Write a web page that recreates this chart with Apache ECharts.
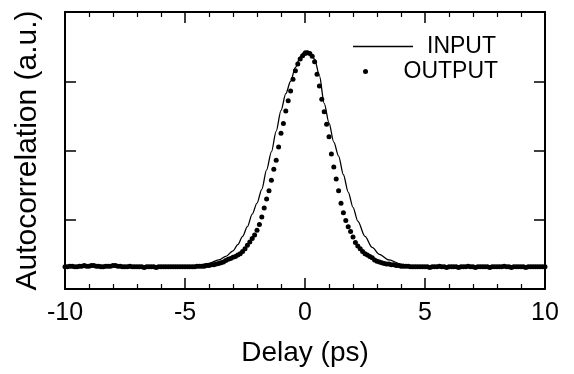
<!DOCTYPE HTML>
<html>
<head>
<meta charset="utf-8">
<title>Autocorrelation</title>
<script src="https://cdn.jsdelivr.net/npm/echarts@6/dist/echarts.min.js"></script>
<style>
html,body{margin:0;padding:0;background:#fff;}
#main{width:574px;height:374px;}
</style>
</head>
<body>
<div id="main"></div>
<script type="text/javascript">
// 数据
var xTicks = [-10, -5, 0, 5, 10];
var seriesNames = ['INPUT', 'OUTPUT'];

// INPUT 实线
var inputDelay = [-10,-9.5,-9,-8.5,-8,-7.5,-7,-6.5,-6,-5.5,-5,-4.5,-4,-3.6,-3.3,-3,-2.8,-2.6,-2.4,-2.2,-2,-1.8,-1.6,-1.4,-1.2,-1,-0.8,-0.6,-0.4,-0.2,0,0.2,0.4,0.6,0.8,1,1.2,1.4,1.6,1.8,2,2.2,2.5,2.8,3.1,3.5,4,4.5,5,5.5,6,6.5,7,7.5,8,8.5,9,9.5,10];
var inputValue = [0.32,0.33,0.33,0.34,0.33,0.33,0.32,0.32,0.32,0.32,0.33,0.34,0.37,0.42,0.47,0.55,0.64,0.76,0.90,1.08,1.24,1.44,1.72,1.98,2.28,2.58,2.82,3.00,3.20,3.35,3.44,3.42,3.32,3.08,2.68,2.40,2.12,1.92,1.65,1.40,1.18,0.98,0.76,0.60,0.50,0.42,0.36,0.33,0.32,0.32,0.32,0.31,0.32,0.32,0.32,0.31,0.32,0.32,0.32];

// OUTPUT 点 (-10 ~ 10, 每 0.1 ps)
var outputDelay = [
-10,-9.9,-9.8,-9.7,-9.6,-9.5,-9.4,-9.3,-9.2,-9.1,
-9,-8.9,-8.8,-8.7,-8.6,-8.5,-8.4,-8.3,-8.2,-8.1,
-8,-7.9,-7.8,-7.7,-7.6,-7.5,-7.4,-7.3,-7.2,-7.1,
-7,-6.9,-6.8,-6.7,-6.6,-6.5,-6.4,-6.3,-6.2,-6.1,
-6,-5.9,-5.8,-5.7,-5.6,-5.5,-5.4,-5.3,-5.2,-5.1,
-5,-4.9,-4.8,-4.7,-4.6,-4.5,-4.4,-4.3,-4.2,-4.1,
-4,-3.9,-3.8,-3.7,-3.6,-3.5,-3.4,-3.3,-3.2,-3.1,
-3,-2.9,-2.8,-2.7,-2.6,-2.5,-2.4,-2.3,-2.2,-2.1,
-2,-1.9,-1.8,-1.7,-1.6,-1.5,-1.4,-1.3,-1.2,-1.1,
-1,-0.9,-0.8,-0.7,-0.6,-0.5,-0.4,-0.3,-0.2,-0.1,
0,0.1,0.2,0.3,0.4,0.5,0.6,0.7,0.8,0.9,
1,1.1,1.2,1.3,1.4,1.5,1.6,1.7,1.8,1.9,
2,2.1,2.2,2.3,2.4,2.5,2.6,2.7,2.8,2.9,
3,3.1,3.2,3.3,3.4,3.5,3.6,3.7,3.8,3.9,
4,4.1,4.2,4.3,4.4,4.5,4.6,4.7,4.8,4.9,
5,5.1,5.2,5.3,5.4,5.5,5.6,5.7,5.8,5.9,
6,6.1,6.2,6.3,6.4,6.5,6.6,6.7,6.8,6.9,
7,7.1,7.2,7.3,7.4,7.5,7.6,7.7,7.8,7.9,
8,8.1,8.2,8.3,8.4,8.5,8.6,8.7,8.8,8.9,
9,9.1,9.2,9.3,9.4,9.5,9.6,9.7,9.8,9.9,
10];
var outputValue = [
0.32,0.32,0.33,0.33,0.32,0.32,0.33,0.33,0.34,0.33,
0.33,0.34,0.34,0.33,0.33,0.32,0.32,0.33,0.33,0.33,
0.34,0.34,0.33,0.33,0.32,0.32,0.32,0.33,0.32,0.32,
0.32,0.32,0.32,0.31,0.32,0.32,0.32,0.32,0.31,0.32,
0.32,0.32,0.32,0.32,0.32,0.32,0.32,0.32,0.32,0.32,
0.32,0.32,0.32,0.32,0.32,0.33,0.33,0.33,0.33,0.34,
0.34,0.35,0.35,0.36,0.37,0.38,0.39,0.41,0.43,0.44,
0.46,0.47,0.49,0.51,0.54,0.58,0.63,0.68,0.73,0.78,
0.85,0.93,1.04,1.17,1.30,1.42,1.57,1.73,1.86,2.05,
2.25,2.39,2.57,2.72,2.86,3.03,3.15,3.25,3.32,3.37,
3.40,3.41,3.40,3.36,3.28,3.10,2.93,2.74,2.56,2.38,
2.20,1.95,1.76,1.59,1.42,1.24,1.10,0.99,0.90,0.83,
0.75,0.67,0.62,0.58,0.54,0.51,0.49,0.47,0.45,0.42,
0.40,0.39,0.38,0.37,0.36,0.36,0.35,0.35,0.34,0.34,
0.33,0.33,0.33,0.33,0.32,0.32,0.32,0.32,0.32,0.32,
0.32,0.32,0.31,0.32,0.32,0.32,0.33,0.32,0.32,0.31,
0.32,0.32,0.32,0.32,0.31,0.32,0.32,0.32,0.33,0.32,
0.32,0.31,0.32,0.32,0.32,0.32,0.32,0.31,0.32,0.32,
0.32,0.32,0.32,0.33,0.32,0.32,0.31,0.32,0.32,0.32,
0.32,0.32,0.31,0.32,0.32,0.32,0.32,0.32,0.32,0.32,
0.32];

var inputData = [];
for (var i = 0; i < inputDelay.length; i++) inputData.push([inputDelay[i], inputValue[i]]);
var outputData = [];
for (var j = 0; j < outputDelay.length; j++) outputData.push([outputDelay[j], outputValue[j]]);

var FONT = '"Liberation Sans", Arial, Helvetica, sans-serif';
var axisLine = {show:true, onZero:false, lineStyle:{color:'#000', width:2}};
var axisTick = {show:true, inside:true, length:11, lineStyle:{color:'#000', width:1.5}};
var minorTick = {show:true, splitNumber:5, length:5, lineStyle:{color:'#000', width:1.2}};

var myChart = echarts.init(document.getElementById('main'), null, {renderer:'canvas'});

var chartOption = {
	backgroundColor: '#fff',
	animation: false,
	textStyle: {fontFamily: FONT, color:'#000'},
	grid: {left:65, right:29, top:12, bottom:85},
	legend: [
		{
			data: [{name: seriesNames[0], icon:'rect'}],
			left: 353, top: 35, padding: 0,
			itemWidth: 60, itemHeight: 1.4,
			itemStyle: {color:'#000'},
			textStyle: {fontFamily:FONT, fontSize:23, color:'#000', padding:[0,0,0,9]}
		},
		{
			data: [{name: seriesNames[1], icon:'circle'}],
			left: 363, top: 60, padding: 0,
			itemWidth: 24, itemHeight: 5,
			textStyle: {fontFamily:FONT, fontSize:23, color:'#000', padding:[0,0,0,21]}
		}
	],
	xAxis: [
		{
			type: 'value', position: 'bottom',
			min: xTicks[0], max: xTicks[xTicks.length-1], interval: 5,
			name: 'Delay (ps)', nameLocation: 'middle', nameGap: 50,
			nameTextStyle: {fontFamily:FONT, fontSize:28, color:'#000'},
			axisLine: axisLine, axisTick: axisTick, minorTick: minorTick,
			splitLine: {show:false},
			axisLabel: {fontFamily:FONT, fontSize:25, color:'#000', margin:12}
		},
		{
			type: 'value', position: 'top',
			min: xTicks[0], max: xTicks[xTicks.length-1], interval: 5,
			axisLine: axisLine, axisTick: axisTick, minorTick: minorTick,
			splitLine: {show:false}, axisLabel: {show:false}
		}
	],
	yAxis: [
		{
			type: 'value', position: 'left',
			min: 0, max: 4, interval: 1,
			name: 'Autocorrelation (a.u.)', nameLocation: 'middle', nameGap: 22,
			nameTextStyle: {fontFamily:FONT, fontSize:30, color:'#000'},
			axisLine: axisLine, axisTick: axisTick,
			splitLine: {show:false}, axisLabel: {show:false}
		},
		{
			type: 'value', position: 'right',
			min: 0, max: 4, interval: 1,
			axisLine: axisLine, axisTick: axisTick,
			splitLine: {show:false}, axisLabel: {show:false}
		}
	],
	series: [
		{
			name: seriesNames[0],
			type: 'line',
			data: inputData,
			symbol: 'none',
			smooth: 0.3,
			smoothMonotone: 'x',
			lineStyle: {color:'#000', width:1.3},
			itemStyle: {color:'#000'}
		},
		{
			name: seriesNames[1],
			type: 'scatter',
			data: outputData,
			symbol: 'circle',
			symbolSize: 5,
			itemStyle: {color:'#000', opacity:1}
		}
	]
};

myChart.setOption(chartOption);
</script>
</body>
</html>
